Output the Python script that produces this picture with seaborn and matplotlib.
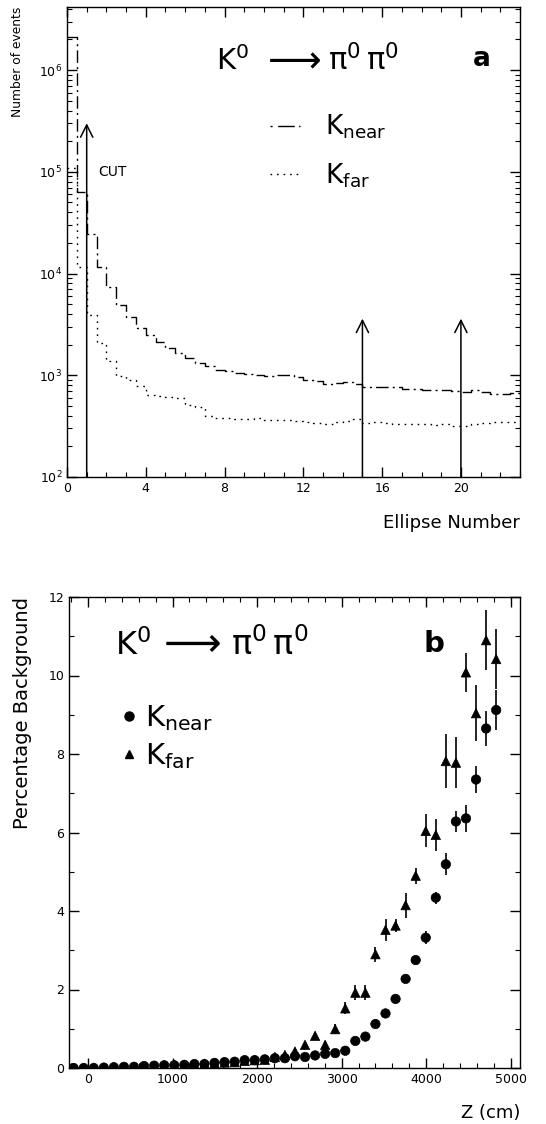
import numpy as np
import pandas as pd
import matplotlib
matplotlib.use("Agg")
import matplotlib.pyplot as plt
import seaborn as sns
from matplotlib.ticker import MultipleLocator, LogLocator, NullFormatter, LogFormatterSciNotation
from matplotlib.lines import Line2D

# ---------------- data : panel a (histogram of ellipse number) ----------------
ellipse_edges = [i * 0.5 for i in range(47)]          # 46 bins of width 0.5
near_counts = [2.1e6, 6.3e4, 2.45e4, 1.17e4, 7400, 4900, 3770, 2890, 2480, 2140,
               1840, 1640, 1470, 1330, 1220, 1130, 1100, 1060, 1030, 1000,
               990, 1000, 1010, 960, 900, 870, 830, 840, 850, 820,
               770, 760, 770, 760, 740, 730, 720, 710, 720, 700,
               690, 720, 690, 660, 660, 665]
far_counts = [1.1e5, 1.15e4, 3900, 2060, 1370, 990, 900, 780, 640, 620,
              610, 600, 510, 490, 400, 380, 380, 375, 375, 380,
              365, 360, 360, 355, 345, 340, 335, 345, 355, 370,
              340, 345, 340, 335, 330, 335, 330, 325, 330, 320,
              315, 330, 340, 345, 345, 345]
arrow_x = [1, 15, 20]
arrow_top = [3.0e5, 3.6e3, 3.6e3]

# ---------------- data : panel b (percentage background vs Z) ----------------
z_cm = [-170, -51, 68, 187, 306, 425, 544, 663, 782, 901, 1020, 1139, 1258, 1377,
        1496, 1615, 1734, 1853, 1972, 2091, 2210, 2329, 2448, 2567, 2686, 2805,
        2924, 3043, 3162, 3281, 3400, 3519, 3638, 3757, 3876, 3995, 4114, 4233,
        4352, 4471, 4590, 4709, 4828]
near_pct = [0.0, 0.0, 0.0, 0.01, 0.02, 0.03, 0.03, 0.05, 0.06, 0.07, 0.07, 0.08,
            0.10, 0.10, 0.13, 0.15, 0.16, 0.20, 0.20, 0.22, 0.25, 0.25, 0.30, 0.28,
            0.32, 0.36, 0.38, 0.44, 0.69, 0.80, 1.12, 1.39, 1.76, 2.27, 2.75, 3.32,
            4.34, 5.19, 6.28, 6.36, 7.35, 8.65, 9.12]
near_err = [0.02, 0.02, 0.02, 0.02, 0.02, 0.02, 0.02, 0.02, 0.02, 0.02, 0.02, 0.02,
            0.03, 0.03, 0.03, 0.03, 0.03, 0.03, 0.03, 0.03, 0.04, 0.04, 0.04, 0.04,
            0.04, 0.05, 0.05, 0.05, 0.06, 0.06, 0.08, 0.08, 0.10, 0.10, 0.10, 0.17,
            0.15, 0.28, 0.26, 0.35, 0.35, 0.45, 0.50]
far_pct = [0.0, 0.0, 0.01, 0.01, 0.02, 0.02, 0.03, 0.04, 0.05, 0.06, 0.08, 0.08,
           0.09, 0.11, 0.12, 0.14, 0.15, 0.18, 0.20, 0.21, 0.28, 0.33, 0.42, 0.59,
           0.82, 0.59, 0.99, 1.52, 1.92, 1.92, 2.90, 3.52, 3.63, 4.15, 4.90, 6.04,
           5.94, 7.82, 7.78, 10.08, 9.04, 10.90, 10.42]
far_err = [0.03, 0.03, 0.03, 0.03, 0.03, 0.03, 0.03, 0.03, 0.03, 0.03, 0.03, 0.03,
           0.03, 0.03, 0.03, 0.03, 0.04, 0.04, 0.04, 0.04, 0.06, 0.07, 0.08, 0.08,
           0.10, 0.10, 0.12, 0.15, 0.20, 0.20, 0.19, 0.28, 0.17, 0.32, 0.20, 0.42,
           0.40, 0.68, 0.65, 0.50, 0.72, 0.77, 0.77]

# ---------------- style ----------------
sns.set_theme(style="ticks")
plt.rcParams["font.family"] = ["DejaVu Sans"]
plt.rcParams["mathtext.fontset"] = "dejavusans"
plt.rcParams["axes.linewidth"] = 1.0
plt.rcParams["axes.edgecolor"] = "black"
plt.rcParams["text.color"] = "black"
plt.rcParams["axes.labelcolor"] = "black"

fig = plt.figure(figsize=(5.46, 11.24), dpi=100)
ax_a = fig.add_axes([67 / 546, 1 - 477 / 1124, 453 / 546, 470 / 1124])
ax_b = fig.add_axes([69 / 546, 1 - 1068 / 1124, 451 / 546, 471 / 1124])

reaction_parts = [r"$\mathregular{K^0}$", r"$\longrightarrow$", r"$\mathregular{π^0\,π^0}$"]
lab_near = r"K$_{\mathregular{near}}$"
lab_far = r"K$_{\mathregular{far}}$"


def reaction(ax, xs, y, sizes):
    """Write K0 -> pi0 pi0 as three pieces sharing one baseline."""
    aligns = ["left", "center", "left"]
    for part, xp, fs, ha in zip(reaction_parts, xs, sizes, aligns):
        ax.text(xp, y, part, transform=ax.transAxes, fontsize=fs,
                ha=ha, va="baseline")


# ---------------- panel a ----------------
centers = [0.5 * (ellipse_edges[i] + ellipse_edges[i + 1]) for i in range(len(ellipse_edges) - 1)]
df_near = pd.DataFrame({"ellipse": centers, "count": near_counts})
df_far = pd.DataFrame({"ellipse": centers, "count": far_counts})
sns.histplot(data=df_near, x="ellipse", weights="count",
             bins=ellipse_edges, element="step", fill=False, color="black",
             linewidth=1.0, linestyle=(0, (9, 3, 1.5, 3)), ax=ax_a)
sns.histplot(data=df_far, x="ellipse", weights="count",
             bins=ellipse_edges, element="step", fill=False, color="black",
             linewidth=1.0, linestyle=(0, (1.2, 3.5)), ax=ax_a)
ax_a.set_yscale("log")
ax_a.set_xlim(0, 23)
ax_a.set_ylim(1e2, 10 ** 6.62)
for xa, ya in zip(arrow_x, arrow_top):
    ax_a.annotate("", xy=(xa, ya), xytext=(xa, 1e2),
                  arrowprops=dict(arrowstyle="->", lw=1.1, color="black",
                                  mutation_scale=22, shrinkA=0, shrinkB=0))
ax_a.text(1.6, 1.0e5, "CUT", fontsize=10, ha="left", va="center")
ax_a.xaxis.set_major_locator(MultipleLocator(4))
ax_a.xaxis.set_minor_locator(MultipleLocator(1))
ax_a.yaxis.set_major_locator(LogLocator(base=10, numticks=10))
ax_a.yaxis.set_minor_locator(LogLocator(base=10, subs=np.arange(2, 10), numticks=10))
ax_a.yaxis.set_major_formatter(LogFormatterSciNotation())
ax_a.yaxis.set_minor_formatter(NullFormatter())
ax_a.set_xlabel("Ellipse Number", loc="right", fontsize=13, labelpad=14)
ax_a.set_ylabel("Number of events", loc="top", fontsize=8.8, labelpad=11)
reaction(ax_a, [(216 - 67) / 453, (291 - 67) / 453, (328 - 67) / 453], 0.866, [21, 27, 22])
ax_a.text(0.915, 0.89, "a", transform=ax_a.transAxes, fontsize=19,
          fontweight="bold", ha="center", va="center")
handles_a = [Line2D([], [], color="black", lw=1.0, linestyle=(0, (1.5, 4, 12, 3))),
             Line2D([], [], color="black", lw=1.0, linestyle=(0, (1.2, 3.5)))]
ax_a.legend(handles_a, [lab_near, lab_far],
            loc="upper left", bbox_to_anchor=(0.448, 0.775), frameon=False,
            borderpad=0, borderaxespad=0,
            fontsize=19, handlelength=1.15, handletextpad=0.95, labelspacing=0.75)

# ---------------- panel b ----------------
df_b = pd.DataFrame({
    "z": z_cm + z_cm,
    "pct": near_pct + far_pct,
    "err": near_err + far_err,
    "sample": ["near"] * len(z_cm) + ["far"] * len(z_cm),
})
ax_b.errorbar(df_b["z"], df_b["pct"], yerr=df_b["err"], fmt="none",
              ecolor="black", elinewidth=1.2, capsize=0)
sns.scatterplot(data=df_b, x="z", y="pct", style="sample",
                markers={"near": "o", "far": "^"}, color="black",
                s=46, edgecolor="black", linewidth=0.5, legend=False, ax=ax_b, zorder=3)
ax_b.set_xlim(-225, 5110)
ax_b.set_ylim(0, 12)
ax_b.xaxis.set_major_locator(MultipleLocator(1000))
ax_b.xaxis.set_minor_locator(MultipleLocator(200))
ax_b.yaxis.set_major_locator(MultipleLocator(2))
ax_b.yaxis.set_minor_locator(MultipleLocator(1))
ax_b.set_xlabel("Z (cm)", loc="right", fontsize=13, labelpad=13)
ax_b.set_ylabel("Percentage Background", loc="top", fontsize=14, labelpad=12)
reaction(ax_b, [(115 - 69) / 451, (189 - 69) / 451, (231 - 69) / 451], 0.877, [23, 29, 24])
ax_b.text(0.81, 0.90, "b", transform=ax_b.transAxes, fontsize=21,
          fontweight="bold", ha="center", va="center")
handles_b = [Line2D([], [], color="black", marker="o", linestyle="none", markersize=6.5),
             Line2D([], [], color="black", marker="^", linestyle="none", markersize=5.5)]
ax_b.legend(handles_b, [lab_near, lab_far],
            loc="upper left", bbox_to_anchor=(0.117, 0.775), frameon=False,
            borderpad=0, borderaxespad=0,
            fontsize=21, handlelength=0.5, handletextpad=0.3, labelspacing=0.3)

for ax in (ax_a, ax_b):
    ax.tick_params(which="both", direction="in", top=True, right=True,
                   colors="black", labelsize=9)
    ax.tick_params(which="major", length=7, width=1.0)
    ax.tick_params(which="minor", length=3.5, width=0.8)
    for s in ax.spines.values():
        s.set_visible(True)
        s.set_color("black")

fig.savefig("out.png", dpi=100)
